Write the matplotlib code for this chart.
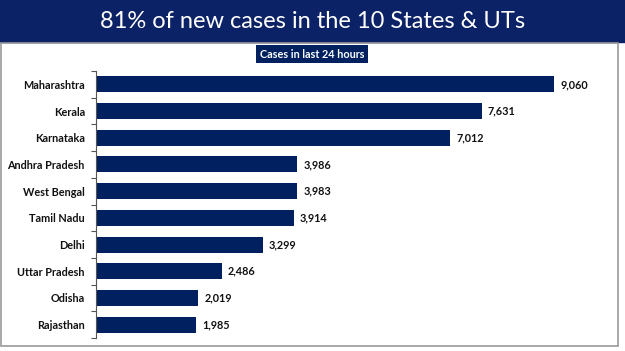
import matplotlib.pyplot as plt
from matplotlib.patches import Rectangle

# data
states = ['Maharashtra', 'Kerala', 'Karnataka', 'Andhra Pradesh', 'West Bengal',
          'Tamil Nadu', 'Delhi', 'Uttar Pradesh', 'Odisha', 'Rajasthan']
cases = [9060, 7631, 7012, 3986, 3983, 3914, 3299, 2486, 2019, 1985]

navy = '#002060'
W, H = 625, 351

fig = plt.figure(figsize=(6.25, 3.51), dpi=100)

# title banner
fig.patches.append(Rectangle((0, 1 - 42 / H), 1, 42 / H, transform=fig.transFigure,
                             color='#0C2266', zorder=0))
fig.text(0.5, 1 - 21 / H, '81% of new cases in the 10 States & UTs', color='white',
         fontsize=17, family='Lato', ha='center', va='center')

# grey frame around the chart area
fig.patches.append(Rectangle((1 / W, 5 / H), 617 / W, (H - 42 - 6) / H, transform=fig.transFigure,
                             fill=False, edgecolor='#9a9a9a', lw=1.2, zorder=0))

# subtitle box
fig.text(312 / W, 1 - 54 / H, 'Cases in last 24 hours', color='white', fontsize=7.8,
         family='Lato', weight='bold', ha='center', va='center',
         bbox=dict(boxstyle='square,pad=0.35', fc=navy, ec='none'))

ax = fig.add_axes([96 / W, 13 / H, 505.5 / W, 267 / H])
y = range(len(states))
ax.barh(y, cases, height=0.6, color=navy)
ax.set_ylim(len(states) - 0.5, -0.5)
ax.set_xlim(0, 10000)

for yi, v in zip(y, cases):
    ax.text(v + 120, yi, f'{v:,}', va='center', ha='left', fontsize=7.8,
            family='Lato', weight='bold', color='#111111')

ax.set_yticks(list(y))
ax.set_yticklabels(states, fontsize=7.8, family='Lato', weight='bold', color='#111111')
ax.set_yticks([i - 0.5 for i in range(len(states) + 1)], minor=True)
ax.tick_params(axis='y', which='major', length=0, pad=8)
ax.tick_params(axis='y', which='minor', length=3.5, color='#555555', width=0.8)
ax.set_xticks([])
for s in ['top', 'right', 'bottom']:
    ax.spines[s].set_visible(False)
ax.spines['left'].set_color('#555555')
ax.spines['left'].set_linewidth(0.8)

plt.savefig('out.png', dpi=100)
